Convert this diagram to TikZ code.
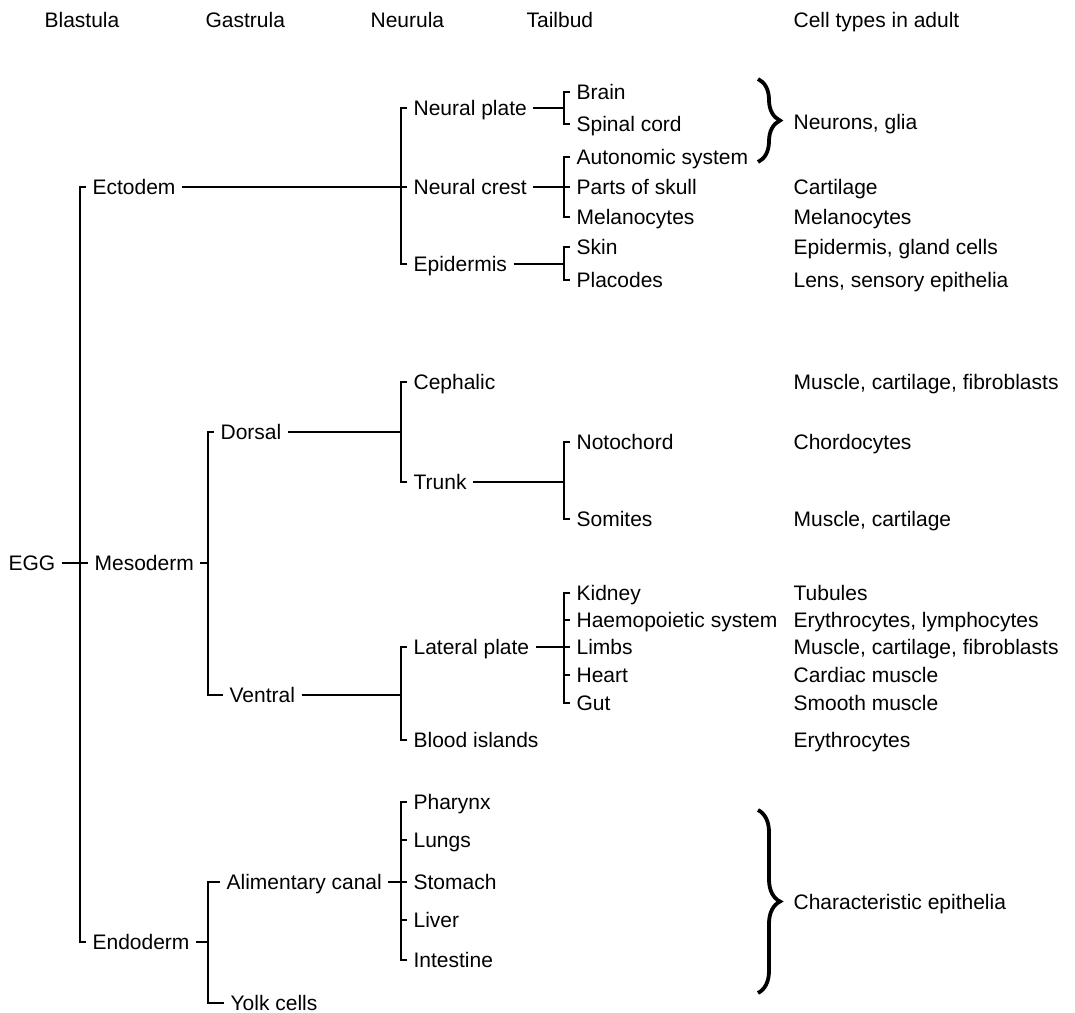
\documentclass[tikz,border=0pt]{standalone}
\usepackage{fontspec}
\setmainfont{Liberation Sans}
\usetikzlibrary{decorations.pathreplacing}

\begin{document}
\begin{tikzpicture}[x=1bp,y=-1bp,line width=1.2bp,
    lbl/.style={anchor=west,inner xsep=6bp,inner ysep=0pt,text height=15bp,text depth=0pt,
        font=\fontsize{21bp}{25bp}\selectfont},
    bigbrace/.style={decorate,decoration={brace,amplitude=22bp},line width=3.8bp}]

    \useasboundingbox (0,0) rectangle (1075,1013);

    % the stages
    \node[lbl] (blastula) at (38,20) {Blastula};
    \node[lbl] (gastrula) at (199,20) {Gastrula};
    \node[lbl] (neurula) at (364,20) {Neurula};
    \node[lbl] (tailbud) at (520,20) {Tailbud};
    \node[lbl] (adult) at (787,20) {Cell types in adult};

    % where the forks stand
    \coordinate (xb) at (80,0);
    \coordinate (xg) at (208,0);
    \coordinate (xn) at (401,0);
    \coordinate (xt) at (564,0);

    % blastula
    \node[lbl] (egg) at (2,563) {EGG};
    \node[lbl] (ecto) at (86,187) {Ectodem};
    \node[lbl] (meso) at (88,563) {Mesoderm};
    \node[lbl] (endo) at (86,942) {Endoderm};

    % gastrula
    \node[lbl] (dorsal) at (214,432) {Dorsal};
    \node[lbl] (ventral) at (223,695) {Ventral};
    \node[lbl] (alim) at (220,882) {Alimentary canal};
    \node[lbl] (yolk) at (224,1003) {Yolk cells};

    % neurula
    \node[lbl] (nplate) at (407,108) {Neural plate};
    \node[lbl] (ncrest) at (407,187) {Neural crest};
    \node[lbl] (epid) at (407,264) {Epidermis};
    \node[lbl] (cephalic) at (407,382) {Cephalic};
    \node[lbl] (trunk) at (407,482) {Trunk};
    \node[lbl] (latplate) at (407,647) {Lateral plate};
    \node[lbl] (blood) at (407,740) {Blood islands};
    \node[lbl] (pharynx) at (407,802) {Pharynx};
    \node[lbl] (lungs) at (407,840) {Lungs};
    \node[lbl] (stomach) at (407,882) {Stomach};
    \node[lbl] (liver) at (407,920) {Liver};
    \node[lbl] (intestine) at (407,960) {Intestine};

    % tailbud
    \node[lbl] (brain) at (570,92) {Brain};
    \node[lbl] (spinal) at (570,124) {Spinal cord};
    \node[lbl] (autonomic) at (570,157) {Autonomic system};
    \node[lbl] (skull) at (570,187) {Parts of skull};
    \node[lbl] (melano) at (570,217) {Melanocytes};
    \node[lbl] (skin) at (570,247) {Skin};
    \node[lbl] (placodes) at (570,280) {Placodes};
    \node[lbl] (notochord) at (570,442) {Notochord};
    \node[lbl] (somites) at (570,519) {Somites};
    \node[lbl] (kidney) at (570,593) {Kidney};
    \node[lbl] (haemo) at (570,620) {Haemopoietic system};
    \node[lbl] (limbs) at (570,647) {Limbs};
    \node[lbl] (heart) at (570,675) {Heart};
    \node[lbl] (gut) at (570,703) {Gut};

    % cell types in adult
    \node[lbl] (neurons) at (787,122) {Neurons, glia};
    \node[lbl] (cartilage) at (787,187) {Cartilage};
    \node[lbl] (melanoad) at (787,217) {Melanocytes};
    \node[lbl] (gland) at (787,247) {Epidermis, gland cells};
    \node[lbl] (lens) at (787,280) {Lens, sensory epithelia};
    \node[lbl] (muscleceph) at (787,382) {Muscle, cartilage, fibroblasts};
    \node[lbl] (chordo) at (787,442) {Chordocytes};
    \node[lbl] (musclesom) at (787,519) {Muscle, cartilage};
    \node[lbl] (tubules) at (787,593) {Tubules};
    \node[lbl] (lympho) at (787,620) {Erythrocytes, lymphocytes};
    \node[lbl] (musclelimb) at (787,647) {Muscle, cartilage, fibroblasts};
    \node[lbl] (cardiac) at (787,675) {Cardiac muscle};
    \node[lbl] (smooth) at (787,703) {Smooth muscle};
    \node[lbl] (erythro) at (787,740) {Erythrocytes};
    \node[lbl] (epithelia) at (787,902) {Characteristic epithelia};

    % egg to the germ layers
    \draw (egg) -- (meso);
    \draw (ecto.west) -- (ecto.west -| xb) -- (endo.west -| xb) -- (endo.west);

    % ectoderm
    \draw (ecto) -- (ncrest);
    \draw (nplate.west) -- (nplate.west -| xn) -- (epid.west -| xn) -- (epid.west);
    \draw (nplate) -- (nplate -| xt);
    \draw (brain.west) -- (brain.west -| xt) -- (spinal.west -| xt) -- (spinal.west);
    \draw (ncrest) -- (skull);
    \draw (autonomic.west) -- (autonomic.west -| xt) -- (melano.west -| xt) -- (melano.west);
    \draw (epid) -- (epid -| xt);
    \draw (skin.west) -- (skin.west -| xt) -- (placodes.west -| xt) -- (placodes.west);

    % mesoderm
    \draw (meso) -- (meso -| xg);
    \draw (dorsal.west) -- (dorsal.west -| xg) -- (ventral.west -| xg) -- (ventral.west);
    \draw (dorsal) -- (dorsal -| xn);
    \draw (cephalic.west) -- (cephalic.west -| xn) -- (trunk.west -| xn) -- (trunk.west);
    \draw (trunk) -- (trunk -| xt);
    \draw (notochord.west) -- (notochord.west -| xt) -- (somites.west -| xt) -- (somites.west);
    \draw (ventral) -- (ventral -| xn);
    \draw (latplate.west) -- (latplate.west -| xn) -- (blood.west -| xn) -- (blood.west);
    \draw (latplate) -- (limbs);
    \draw (kidney.west) -- (kidney.west -| xt) -- (gut.west -| xt) -- (gut.west);
    \draw (haemo.west) -- (haemo.west -| xt);
    \draw (heart.west) -- (heart.west -| xt);

    % endoderm
    \draw (endo) -- (endo -| xg);
    \draw (alim.west) -- (alim.west -| xg) -- (yolk.west -| xg) -- (yolk.west);
    \draw (alim) -- (stomach);
    \draw (pharynx.west) -- (pharynx.west -| xn) -- (intestine.west -| xn) -- (intestine.west);
    \draw (lungs.west) -- (lungs.west -| xn);
    \draw (liver.west) -- (liver.west -| xn);

    % the braces
    \draw[bigbrace] (758,79) -- (758,162);
    \draw[bigbrace] (758,810) -- (758,993);
\end{tikzpicture}
\end{document}
